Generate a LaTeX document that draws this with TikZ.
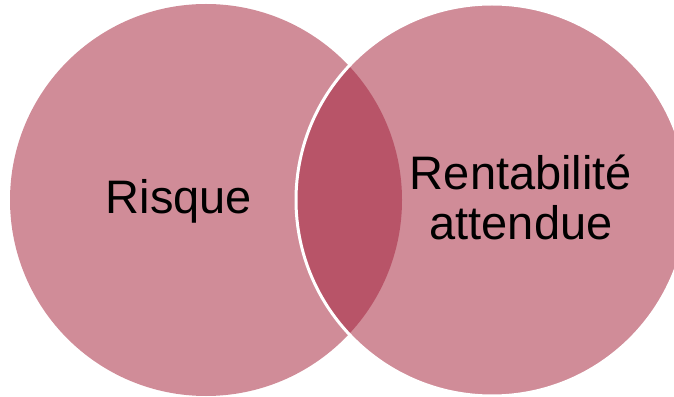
\documentclass[tikz,border=0pt]{standalone}
\usepackage{fontspec}
\setmainfont{Liberation Sans}
\definecolor{petal}{RGB}{208,140,152}
\definecolor{lens}{RGB}{184,84,104}
\tikzset{venntext/.style={font=\fontsize{47}{50}\selectfont, text=black, inner sep=0pt}}
\begin{document}
\begin{tikzpicture}[x=1pt,y=1pt]
        \useasboundingbox (0,0) rectangle (674,396);
        \coordinate (risk) at (206,196);
        \coordinate (gain) at (492,196);

        \fill[petal] (risk) circle (196);
        \fill[petal] (gain) circle (196);
        \begin{scope}
            \clip (risk) circle (196);
            \fill[lens] (gain) circle (196);
        \end{scope}
        \draw[white, line width=3] (gain) circle (196);

        \node (risque) [venntext, anchor=base] at (179,182) {Risque};
        \node (rent) [venntext, align=center] at (521,199) {Rentabilité\\attendue};
    \end{tikzpicture}
\end{document}
